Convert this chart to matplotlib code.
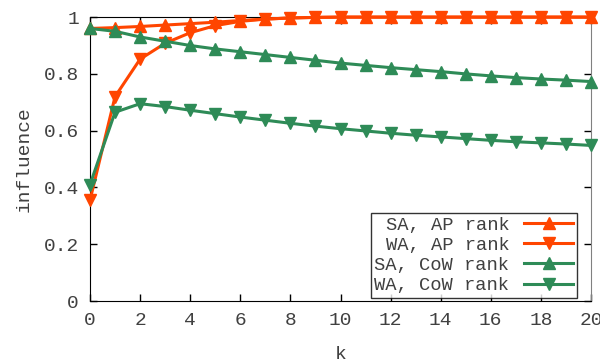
import matplotlib.pyplot as plt
import numpy as np

plt.rcParams["font.family"] = ["Liberation Mono", "DejaVu Sans Mono"]

k = np.arange(0, 21)

sa_ap = [0.960, 0.963, 0.967, 0.972, 0.977, 0.982, 0.988, 0.993, 0.997, 0.999,
         1.0, 1.0, 1.0, 1.0, 1.0, 1.0, 1.0, 1.0, 1.0, 1.0, 1.0]
wa_ap = [0.355, 0.720, 0.852, 0.908, 0.945, 0.970, 0.985, 0.993, 0.997, 0.999,
         1.0, 1.0, 1.0, 1.0, 1.0, 1.0, 1.0, 1.0, 1.0, 1.0, 1.0]
sa_cow = [0.960, 0.950, 0.930, 0.915, 0.900, 0.888, 0.878, 0.868, 0.858, 0.848,
          0.838, 0.830, 0.822, 0.815, 0.808, 0.800, 0.793, 0.787, 0.782, 0.778, 0.773]
wa_cow = [0.410, 0.665, 0.695, 0.685, 0.672, 0.660, 0.648, 0.637, 0.626, 0.616,
          0.607, 0.599, 0.591, 0.584, 0.578, 0.572, 0.566, 0.561, 0.557, 0.553, 0.548]

labels = ["SA, AP rank", "WA, AP rank", "SA, CoW rank", "WA, CoW rank"]
orange = "#ff4500"
green = "#2e8b57"
gray = "#404040"

fig = plt.figure(figsize=(6, 3.64), dpi=100)
ax = fig.add_axes([0.15, 0.173, 0.835, 0.78])

style = dict(lw=2.2, ms=9, clip_on=False, zorder=3)
ax.plot(k, sa_ap, color=orange, marker="^", label=labels[0], **style)
ax.plot(k, wa_ap, color=orange, marker="v", label=labels[1], **style)
ax.plot(k, sa_cow, color=green, marker="^", label=labels[2], **style)
ax.plot(k, wa_cow, color=green, marker="v", label=labels[3], **style)

ax.set_xlim(0, 20)
ax.set_ylim(0, 1)
ax.set_xticks(range(0, 21, 2))
ax.set_yticks([0, 0.2, 0.4, 0.6, 0.8, 1])
ax.set_yticklabels(["0", "0.2", "0.4", "0.6", "0.8", "1"])
ax.tick_params(direction="in", length=5, width=1, labelsize=14,
               labelcolor=gray, top=True, right=True, pad=8)
ax.spines["right"].set_color("#808080")

ax.set_xlabel("k", fontsize=14, color=gray, labelpad=12)
ax.set_ylabel("influence", fontsize=14, color=gray, labelpad=8)

leg = ax.legend(loc="lower right", bbox_to_anchor=(0.972, 0.011),
                borderaxespad=0, markerfirst=False, fontsize=13.5,
                frameon=True, fancybox=False, edgecolor="black",
                handlelength=2.6, labelspacing=0.16, borderpad=0.2,
                handletextpad=0.8, labelcolor=gray)
leg.get_frame().set_linewidth(1)
for t in leg.get_texts():
    t.set_ha("right")

fig.savefig("out.png", dpi=100)
